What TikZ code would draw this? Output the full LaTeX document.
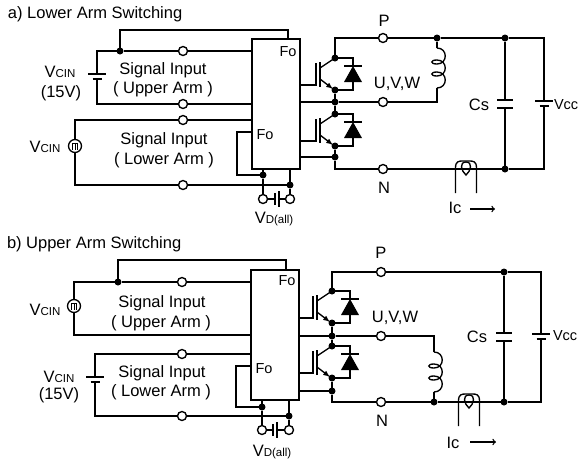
\documentclass[tikz,border=0pt]{standalone}
\usepackage{fontspec}
\setmainfont{Liberation Sans}
\newcommand{\smalltxt}[1]{{\fontsize{11.5}{12}\selectfont #1}}
\tikzset{
	wire/.style={line width=1.35pt},
	term/.style={circle, draw, fill=white, line width=1.35pt, minimum size=9pt, inner sep=0pt, outer sep=0pt},
	junc/.style={circle, fill=black, minimum size=7pt, inner sep=0pt, outer sep=0pt},
	lbl/.style={inner sep=0pt, outer sep=0pt, font=\fontsize{16.5}{18}\selectfont},
	folbl/.style={inner sep=0pt, outer sep=0pt, font=\fontsize{14.5}{16}\selectfont},
	icbox/.style={draw, line width=1.35pt, inner sep=0pt, outer sep=0pt, minimum width=48pt, minimum height=130pt},
	srcv/.style={circle, draw, line width=1.35pt, minimum size=13pt, inner sep=0pt, outer sep=0pt},
	igbtcell/.pic={
		\coordinate(-g)at(-19, 27);
		\draw[wire](-19, 5)--(-19, 28);
		\draw[wire](-15, 4)--(-15, 29);
		\draw[wire](-15, 10)--(0, 0);
		\draw[wire, -latex](-15, 21)--(-2, 31);
		\draw[wire](0, 0)-|(18, 8);
		\draw[wire](9, 8)--(27, 8);
		\fill(18, 8)--(9, 24)--(27, 24)--cycle;
		\draw[wire](18, 24)|-(0, 32);
	},
	cellv/.pic={
		\coordinate(-t)at(0, 0);
		\coordinate(-b)at(0, 5);
		\draw[wire](-9, 0)--(9, 0);
		\draw[wire](-4.5, 5)--(4.5, 5);
	},
	cellh/.pic={
		\coordinate(-l)at(0, 0);
		\coordinate(-r)at(4, 0);
		\draw[wire](0, -6)--(0, 6);
		\draw[wire](4, -8)--(4, 8);
	},
	capv/.pic={
		\coordinate(-t)at(0, 0);
		\coordinate(-b)at(0, 8);
		\draw[wire](-8, 0)--(8, 0);
		\draw[wire](-8, 8)--(8, 8);
	},
	coil/.pic={
		\coordinate(-t)at(0, 0);
		\coordinate(-b)at(0, 40);
		\draw[wire](0, 0)..controls(11, 0) and (11, 16)..(0, 16)
			..controls(-7, 16) and (-7, 12)..(0, 12)
			..controls(11, 12) and (11, 28)..(0, 28)
			..controls(-7, 28) and (-7, 24)..(0, 24)
			..controls(11, 24) and (11, 40)..(0, 40);
	},
	clamp/.pic={
		\draw[wire](-10.5, 24)--(-10.5, -1)..controls(-10.5, -8) and (-7, -8)..(-3, -8)--(3, -8)
			..controls(7, -8) and (10.5, -8)..(10.5, -1)--(10.5, 24);
		\draw[wire](0, -7)..controls(-7, -7) and (-5, 2)..(0, 6)..controls(5, 2) and (7, -7)..(0, -7);
	},
	pulse/.pic={
		\draw[line width=0.9pt](-2.5, 4)--(-2.5, -3)--(2.5, -3)--(2.5, 4);
		\draw[line width=0.9pt](0, -3)--(0, 4);
	}
}
\begin{document}
\begin{tikzpicture}[x=1pt, y=-1pt]
	\useasboundingbox(0, 0)rectangle(579, 459);

	\node[lbl, anchor=west](atitle)at(8, 14){a) Lower Arm Switching};
	\node[icbox](abox)at(276, 104){};
	\node[folbl](afo1)at(288, 52){Fo};
	\node[folbl](afo2)at(265, 135){Fo};
	\node[lbl](asig1)at(163, 70){Signal Input};
	\node[lbl](aarm1)at(163, 89){( Upper Arm )};
	\node[lbl](asig2)at(164, 140){Signal Input};
	\node[lbl](aarm2)at(164, 160){( Lower Arm )};
	\node[lbl](avcin1)at(60, 72){V\smalltxt{CIN}};
	\node[lbl](a15v)at(61, 93){(15V)};
	\node[lbl](avcin2)at(45, 147){V\smalltxt{CIN}};
	\node[lbl](avdl)at(274, 219){V\smalltxt{D(all)}};
	\node[lbl](alp)at(384, 21){P};
	\node[lbl](aln)at(384, 188){N};
	\node[lbl](aluvw)at(397, 84){U,V,W};
	\node[lbl](alcs)at(479, 105){Cs};
	\node[folbl, anchor=west](alvcc)at(554, 105){Vcc};
	\node[lbl](alic)at(455, 208){Ic};

	\pic(ahi)at(335, 58){igbtcell};
	\pic(alo)at(335, 114){igbtcell};
	\pic(abat)at(97, 74){cellv};
	\pic(avd)at(275, 199){cellh};
	\pic(acoil)at(437, 48){coil};
	\pic(acs)at(505, 100){capv};
	\pic(avcc)at(544, 101){cellv};
	\pic(aclamp)at(466, 169){clamp};

	\node[srcv](asrc)at(75, 146){};
	\pic(apulse)at(75, 146){pulse};
	\node[term](at1)at(183, 51){};
	\node[term](at2)at(183, 104){};
	\node[term](at3)at(183, 120){};
	\node[term](at4)at(183, 185){};
	\node[term](atd)at(263, 199){};
	\node[term](atr)at(290, 199){};
	\node[term](aP)at(383, 38){};
	\node[term](aU)at(383, 102){};
	\node[term](aN)at(383, 169){};
	\node[junc](ad1)at(120, 51){};
	\node[junc](ad2)at(263, 175){};
	\node[junc](ad3)at(290, 185){};
	\node[junc](aj1)at(437, 38){};
	\node[junc](aj2)at(505, 38){};
	\node[junc](aj3)at(505, 169){};
	\node[junc](ahic)at(335, 58){};
	\node[junc](ahie)at(335, 90){};
	\node[junc](aout)at(335, 102){};
	\node[junc](aloc)at(335, 114){};
	\node[junc](aloe)at(335, 146){};
	\node[junc](aneg)at(335, 157){};
	\coordinate(afo)at(288, 30);
	\coordinate(afl)at(237, 132);
	\coordinate(ac1)at(97, 51);
	\coordinate(ac2)at(97, 104);
	\coordinate(ac3)at(75, 120);
	\coordinate(ac4)at(75, 185);
	\coordinate(ac5)at(544, 38);
	\coordinate(ac6)at(335, 38);
	\coordinate(ac7)at(544, 169);
	\coordinate(ac8)at(335, 169);
	\coordinate(ac9)at(437, 102);
	\coordinate(aar1)at(470, 209);
	\coordinate(aar2)at(495, 209);

	\draw[wire](ad1)|-(afo)--(abox.north-|afo);
	\draw[wire](abat-t)--(ac1)--(ad1);
	\draw[wire](ad1)--(at1);
	\draw[wire](at1)--(abox.west|-at1);
	\draw[wire](abat-b)--(ac2)--(at2);
	\draw[wire](at2)--(abox.west|-at2);
	\draw[wire](asrc)--(ac3)--(at3);
	\draw[wire](at3)--(abox.west|-at3);
	\draw[wire](asrc)--(ac4)--(at4);
	\draw[wire](at4)--(ad3);
	\draw[wire](abox.west|-afl)--(afl)|-(ad2);
	\draw[wire](ad2)--(abox.south-|ad2);
	\draw[wire](ad3)--(abox.south-|ad3);
	\draw[wire](ad2)--(atd);
	\draw[wire](ad3)--(atr);
	\draw[wire](atd)--(avd-l);
	\draw[wire](avd-r)--(atr);
	\draw[wire](abox.east|-ahi-g)--(ahi-g);
	\draw[wire](abox.east|-alo-g)--(alo-g);
	\draw[wire](abox.east|-aout)--(aout);
	\draw[wire](abox.east|-aneg)--(aneg);
	\draw[wire](ahic)--(ac6)--(aP);
	\draw[wire](aP)--(aj1);
	\draw[wire](aj1)--(aj2);
	\draw[wire](aj2)--(ac5)--(avcc-t);
	\draw[wire](avcc-b)--(ac7)--(aj3);
	\draw[wire](aj3)--(aN);
	\draw[wire](aN)--(ac8)--(aneg);
	\draw[wire](ahie)--(aout);
	\draw[wire](aout)--(aloc);
	\draw[wire](aloe)--(aneg);
	\draw[wire](aout)--(aU);
	\draw[wire](aU)--(ac9)--(acoil-b);
	\draw[wire](acoil-t)--(aj1);
	\draw[line width=1.7pt](aj2)--(acs-t);
	\draw[line width=1.7pt](acs-b)--(aj3);
	\draw[wire, -to](aar1)--(aar2);

	\node[lbl, anchor=west](btitle)at(7, 244){b) Upper Arm Switching};
	\node[icbox](bbox)at(275, 335){};
	\node[folbl](bfo1)at(287, 281){Fo};
	\node[folbl](bfo2)at(264, 369){Fo};
	\node[lbl](bsig1)at(162, 303){Signal Input};
	\node[lbl](barm1)at(161, 323){( Upper Arm )};
	\node[lbl](bsig2)at(162, 373){Signal Input};
	\node[lbl](barm2)at(161, 392){( Lower Arm )};
	\node[lbl](bvcin1)at(45, 310){V\smalltxt{CIN}};
	\node[lbl](bvcin2)at(59, 377){V\smalltxt{CIN}};
	\node[lbl](b15v)at(59, 395){(15V)};
	\node[lbl](bvdl)at(272, 452){V\smalltxt{D(all)}};
	\node[lbl](blp)at(381, 253){P};
	\node[lbl](bln)at(382, 421){N};
	\node[lbl](bluvw)at(395, 318){U,V,W};
	\node[lbl](blcs)at(477, 337){Cs};
	\node[folbl, anchor=west](blvcc)at(553, 336){Vcc};
	\node[lbl](blic)at(453, 443){Ic};

	\pic(bhi)at(332, 291){igbtcell};
	\pic(blo)at(332, 346){igbtcell};
	\pic(bbat)at(95, 377){cellv};
	\pic(bvd)at(273, 430){cellh};
	\pic(bcoil)at(434, 352){coil};
	\pic(bcs)at(504, 333){capv};
	\pic(bvcc)at(541, 334){cellv};
	\pic(bclamp)at(469, 402){clamp};

	\node[srcv](bsrc)at(74, 306){};
	\pic(bpulse)at(74, 306){pulse};
	\node[term](bt1)at(182, 282){};
	\node[term](bt3)at(182, 354){};
	\node[term](bt4)at(182, 416){};
	\node[term](btd)at(262, 430){};
	\node[term](btr)at(289, 430){};
	\node[term](bP)at(381, 272){};
	\node[term](bU)at(381, 336){};
	\node[term](bN)at(381, 402){};
	\node[junc](bd1)at(118, 282){};
	\node[junc](bd2)at(262, 407){};
	\node[junc](bd3)at(289, 416){};
	\node[junc](bj2)at(504, 272){};
	\node[junc](bj3)at(504, 402){};
	\node[junc](bj4)at(434, 402){};
	\node[junc](bhic)at(332, 291){};
	\node[junc](bhie)at(332, 323){};
	\node[junc](bout)at(332, 336){};
	\node[junc](bloc)at(332, 346){};
	\node[junc](bloe)at(332, 378){};
	\node[junc](bneg)at(332, 391){};
	\coordinate(bfo)at(286, 260);
	\coordinate(bfl)at(236, 366);
	\coordinate(bc1)at(74, 282);
	\coordinate(bc2)at(74, 335);
	\coordinate(bc3)at(95, 354);
	\coordinate(bc4)at(95, 416);
	\coordinate(bc5)at(541, 272);
	\coordinate(bc6)at(332, 272);
	\coordinate(bc7)at(541, 402);
	\coordinate(bc8)at(332, 402);
	\coordinate(bc9)at(434, 336);
	\coordinate(bar1)at(470, 442);
	\coordinate(bar2)at(496, 442);

	\draw[wire](bd1)|-(bfo)--(bbox.north-|bfo);
	\draw[wire](bsrc)--(bc1)--(bd1);
	\draw[wire](bd1)--(bt1);
	\draw[wire](bt1)--(bbox.west|-bt1);
	\draw[wire](bsrc)--(bc2)--(bbox.west|-bc2);
	\draw[wire](bbat-t)--(bc3)--(bt3);
	\draw[wire](bt3)--(bbox.west|-bt3);
	\draw[wire](bbat-b)--(bc4)--(bt4);
	\draw[wire](bt4)--(bd3);
	\draw[wire](bbox.west|-bfl)--(bfl)|-(bd2);
	\draw[wire](bd2)--(bbox.south-|bd2);
	\draw[wire](bd3)--(bbox.south-|bd3);
	\draw[wire](bd2)--(btd);
	\draw[wire](bd3)--(btr);
	\draw[wire](btd)--(bvd-l);
	\draw[wire](bvd-r)--(btr);
	\draw[wire](bbox.east|-bhi-g)--(bhi-g);
	\draw[wire](bbox.east|-blo-g)--(blo-g);
	\draw[wire](bbox.east|-bout)--(bout);
	\draw[wire](bbox.east|-bneg)--(bneg);
	\draw[wire](bhic)--(bc6)--(bP);
	\draw[wire](bP)--(bj2);
	\draw[wire](bj2)--(bc5)--(bvcc-t);
	\draw[wire](bvcc-b)--(bc7)--(bj3);
	\draw[wire](bj3)--(bj4);
	\draw[wire](bj4)--(bN);
	\draw[wire](bN)--(bc8)--(bneg);
	\draw[wire](bhie)--(bout);
	\draw[wire](bout)--(bloc);
	\draw[wire](bloe)--(bneg);
	\draw[wire](bout)--(bU);
	\draw[wire](bU)--(bc9)--(bcoil-t);
	\draw[wire](bcoil-b)--(bj4);
	\draw[line width=1.7pt](bj2)--(bcs-t);
	\draw[line width=1.7pt](bcs-b)--(bj3);
	\draw[wire, -to](bar1)--(bar2);
\end{tikzpicture}
\end{document}
